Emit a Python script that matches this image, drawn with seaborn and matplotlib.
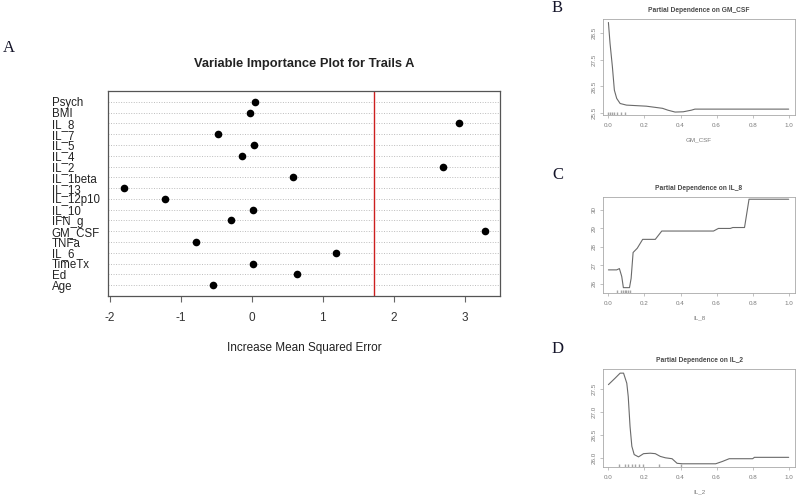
import matplotlib
matplotlib.use("Agg")
import matplotlib.pyplot as plt
import seaborn as sns
import pandas as pd

# %%
# ------------------------
# Data
# ------------------------
variables = ["Psych", "BMI", "IL_8", "IL_7", "IL_5", "IL_4", "IL_2", "IL_1beta", "IL_13",
             "IL_12p10", "IL_10", "IFN_g", "GM_CSF", "TNFa", "IL_6", "TimeTx", "Ed", "Age"]
importance = [0.04, -0.03, 2.92, -0.48, 0.03, -0.14, 2.69, 0.58, -1.81,
              -1.23, 0.01, -0.30, 3.29, -0.79, 1.18, 0.01, 0.64, -0.55]
cutoff = 1.72

gm_x = [0.0, 0.009, 0.022, 0.033, 0.046, 0.065, 0.10, 0.21, 0.30, 0.33, 0.37, 0.415, 0.46, 0.48, 1.0]
gm_y = [28.89, 28.11, 27.24, 26.36, 26.05, 25.86, 25.80, 25.76, 25.68, 25.61, 25.54, 25.55, 25.61, 25.65, 25.65]
gm_rug = [0.0, 0.01, 0.02, 0.03, 0.05, 0.07, 0.09]

il8_x = [0.0, 0.046, 0.061, 0.074, 0.083, 0.117, 0.126, 0.137, 0.16, 0.19, 0.26, 0.296,
         0.583, 0.61, 0.676, 0.69, 0.755, 0.78, 1.0]
il8_y = [26.76, 26.76, 26.83, 26.4, 25.8, 25.8, 26.3, 27.7, 27.93, 28.41, 28.41, 28.86,
         28.86, 29.0, 29.0, 29.05, 29.05, 30.58, 30.58]
il8_rug = [0.05, 0.07, 0.08, 0.09, 0.10, 0.11, 0.12]

il2_x = [0.0, 0.037, 0.065, 0.084, 0.102, 0.11, 0.12, 0.13, 0.143, 0.167, 0.195, 0.232, 0.26,
         0.288, 0.316, 0.353, 0.381, 0.41, 0.595, 0.632, 0.67, 0.80, 0.81, 1.0]
il2_y = [27.59, 27.73, 27.84, 27.84, 27.62, 27.33, 26.68, 26.25, 26.07, 26.02, 26.09, 26.10, 26.09,
         26.03, 26.0, 25.98, 25.88, 25.87, 25.87, 25.92, 25.98, 25.98, 26.01, 26.01]
il2_rug = [0.06, 0.09, 0.11, 0.13, 0.15, 0.17, 0.19, 0.28, 0.40]

# %%
sns.set_theme(style="white")
plt.rcParams['font.family'] = ['Liberation Sans', 'DejaVu Sans']
plt.rcParams['axes.unicode_minus'] = False

W, H = 800, 496
fig = plt.figure(figsize=(8, 4.96), dpi=100)


def px_axes(l, t, r, b):
    return fig.add_axes([l / W, 1 - b / H, (r - l) / W, (b - t) / H])


def letter(x, y, s):
    fig.text(x / W, 1 - y / H, s, family=['Liberation Serif', 'DejaVu Serif'],
             fontsize=12, color='#15152a', ha='center', va='center')


# ------------------------
# Panel A: variable importance dot chart
# ------------------------
df = pd.DataFrame({"var": variables, "imp": importance})
ax = px_axes(108, 91, 500, 296)
sns.stripplot(data=df, x="imp", y="var", order=variables, jitter=False,
              color="black", size=5.5, ax=ax, zorder=3)
ax.set_ylim(len(variables), -1)
ax.set_xlim(-2.03, 3.5)
ax.axvline(cutoff, color="#cc1f1f", lw=1.0, zorder=2)
for i in range(len(variables)):
    ax.axhline(i, color="#bdbdbd", lw=0.7, ls=(0, (1, 1.6)), zorder=1)
for sp in ax.spines.values():
    sp.set_color("#555555")
    sp.set_linewidth(0.9)
ax.set_xticks([-2, -1, 0, 1, 2, 3])
ax.tick_params(axis='x', bottom=True, length=4.5, width=0.8, color='#666666',
               labelsize=8.5, labelcolor='#333333', pad=7)
ax.tick_params(axis='y', left=False, length=0, labelsize=8.3, labelcolor='#222222', pad=40.5)
for lab in ax.get_yticklabels():
    lab.set_horizontalalignment('left')
ax.set_ylabel("")
ax.set_xlabel("Increase Mean Squared Error", fontsize=8.5, color='#222222')
ax.xaxis.set_label_coords(0.5, -0.222)
ax.set_title("Variable Importance Plot for Trails A", fontsize=9.3, fontweight='bold',
             color='#222222', pad=17)
letter(9, 48, "A")


# ------------------------
# Panels B-D: partial dependence
# ------------------------
def pd_panel(box, xs, ys, rug, yticks, ylabels, ylim, name):
    a = px_axes(*box)
    sns.lineplot(x=xs, y=ys, color="#6a6a6a", lw=0.8, sort=False, estimator=None, ax=a)
    sns.rugplot(x=rug, height=0.035, color="#a5a5a5", lw=0.5, ax=a)
    a.set_xlim(-0.03, 1.035)
    a.set_ylim(*ylim)
    a.set_xticks([0.0, 0.2, 0.4, 0.6, 0.8, 1.0])
    a.set_xticklabels(["0.0", "0.2", "0.4", "0.6", "0.8", "1.0"])
    a.set_yticks(yticks)
    a.set_yticklabels(ylabels, rotation=90, va='center')
    for sp in a.spines.values():
        sp.set_color("#a8a8a8")
        sp.set_linewidth(0.6)
    a.tick_params(axis='both', length=2.2, width=0.5, color='#a8a8a8',
                  labelsize=4.5, labelcolor='#7a7a7a', pad=3.5)
    a.tick_params(axis='x', bottom=True)
    a.tick_params(axis='y', left=True, pad=2.5)
    a.set_title("Partial Dependence on " + name, fontsize=4.8, fontweight='bold',
                color='#4a4a4a', pad=5)
    a.set_xlabel(name, fontsize=4.5, color='#7a7a7a', labelpad=7)
    return a


pd_panel((603, 19, 795, 115), gm_x, gm_y, gm_rug, [25.5, 26.5, 27.5, 28.5],
         ["25.5", "26.5", "27.5", "28.5"], (25.43, 29.02), "GM_CSF")
letter(557, 8, "B")
pd_panel((603, 197, 795, 293), il8_x, il8_y, il8_rug, [26, 27, 28, 29, 30],
         ["26", "27", "28", "29", "30"], (25.51, 30.70), "IL_8")
letter(558, 175, "C")
pd_panel((603, 369, 795, 467), il2_x, il2_y, il2_rug, [26.0, 26.5, 27.0, 27.5],
         ["26.0", "26.5", "27.0", "27.5"], (25.80, 27.93), "IL_2")
letter(558, 349, "D")

plt.savefig("out.png", dpi=100)
